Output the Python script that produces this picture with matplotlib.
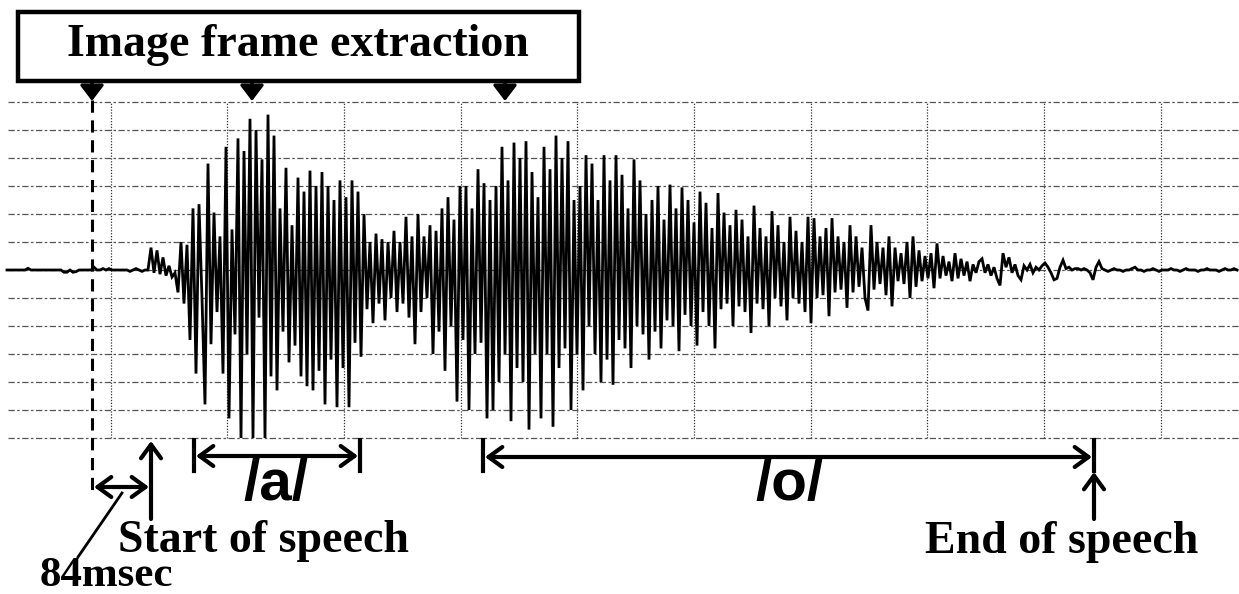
import matplotlib
matplotlib.use("Agg")
import matplotlib.pyplot as plt
from matplotlib.patches import Rectangle

# ---------------- data ----------------
grid_times = [0, 1, 2, 3, 4, 5, 6, 7, 8, 9]          # vertical grid divisions
grid_levels = [-6, -5, -4, -3, -2, -1, 0, 1, 2, 3, 4, 5, 6]
sample_start = -0.8889      # time of first sample (grid divisions)
sample_step = 0.025714      # time between samples (grid divisions)

pre_speech = [0, 0, 0, 0, 0, 0, 0, 0.06, 0,
              0, 0, 0, 0, 0, 0, 0, 0, 0, 0,
              -0.08, -0.08, 0, -0.08, -0.06, 0, 0,
              0, 0, 0, 0.1, 0,
              0, 0.05, 0, 0.05, 0, 0, 0, 0, 0, 0,
              -0.05, 0, 0.05, 0, -0.05, 0]
onset = [0.0, 0.8, -0.1, 0.7, -0.15, 0.45, -0.2, 0.15, -0.25, -0.1]
vowel_a = [-0.8, 1.0, -1.2, 0.9, -2.5, 2.2, -3.7, 2.35, -1.0, -4.8,
           3.8, -2.65, 2.05, -1.5, 1.2, -3.7, 4.4, -5.3, 1.45, -2.3,
           4.7, -6.0, 4.25, -3.0, 5.4, -6.0, 5.0, -1.7, 3.95, -6.0,
           5.55, -3.8, 4.8, -4.3, 2.2, -2.2, 3.65, -3.3, 1.6, -2.7,
           3.3, -3.8, 2.8, -4.15, 3.55, -4.3, 3.0, -3.6, 3.5, -4.8,
           3.0, -3.2, 2.5, -4.9, 3.2, -3.5, 2.6, -4.9, 3.2, -2.6,
           2.8, -3.1, 2.0, -1.4, 1.0, -1.9, 1.3, -1.2, 1.1, -1.8]
transition = [1.0, -1.0, 1.4, -1.5, 1.0, -1.2, 1.9, -1.7, 1.2, -2.65,
              2.0, -1.5, 1.2, -1.0, 1.6, -3.0, 1.4, -2.2, 2.2, -3.6]
vowel_o = [2.6, -2.0, 1.8, -4.7, 3.0, -2.5, 3.0, -5.0, 2.2, -3.0,
           3.6, -2.6, 3.1, -5.3, 2.5, -5.0, 3.0, -4.0, 4.4, -3.0,
           3.2, -5.4, 4.55, -3.5, 4.0, -4.0, 4.6, -5.7, 3.5, -3.0,
           2.6, -5.3, 4.4, -3.0, 3.6, -5.6, 4.8, -3.5, 4.0, -2.8,
           4.6, -5.0, 2.5, -3.0, 3.0, -4.3, 4.1, -2.0, 3.8, -3.0,
           2.5, -4.0, 4.1, -3.2, 3.2, -4.1, 4.1, -2.5, 3.4, -2.8,
           2.2, -3.5, 3.95, -2.0, 3.2, -2.3, 2.0, -3.2, 2.5, -2.2,
           3.0, -2.8, 1.8, -1.8, 3.05, -2.0, 2.2, -2.9, 2.95, -1.6,
           2.5, -2.0, 1.7, -2.7, 2.8, -1.5, 2.4, -2.0, 1.5, -2.8,
           2.75, -1.4, 2.05, -1.2, 1.6, -2.0, 2.15, -1.3, 1.8, -1.5,
           1.2, -2.25, 2.3, -1.2, 1.5, -1.4, 1.2, -2.0, 2.1, -1.0,
           1.6, -1.3, 1.0, -1.8, 1.9, -1.0, 1.4, -1.2, 1.0, -1.5,
           1.9, -1.9, 1.85, -1.0, 1.2, -0.9, 1.5, -1.65, 1.85, -0.8,
           1.2, -0.7, 1.0, -1.35, 1.6, -0.8, 1.2, -0.6, 0.8, -1.0,
           -1.45, 1.6, -0.7, 1.0, -0.5, 0.8, -0.9, 1.2, -1.3, 0.8]
decay = [-0.4, 0.6, -0.5, 1.0, -1.0, 1.2, -0.6, 0.7, -0.4, 0.5,
         -0.3, 0.6, -0.65, 0.95, -0.3, 0.5, -0.2, 0.3, -0.4, 0.6,
         -0.3, 0.4, -0.2, 0.3, -0.4, 0.2, -0.1, 0.3, 0.4, -0.1,
         0.2, -0.2, 0.1, -0.3, -0.55, 0.6, 0.1, 0.45, -0.1, 0.2,
         -0.2, -0.35, 0.15, 0.0, 0.2, -0.1, 0.1, 0.0, 0.15, 0.25,
         0.1, -0.1, -0.35, -0.3, 0.1, 0.35, 0.05, 0.1, 0.0, 0.05,
         0.05, 0.0, 0.05, 0.0, -0.1, -0.35, 0.1, 0.3, 0.05, 0.0]
tail = [-0.05, 0, 0.05, 0, 0, -0.05, 0, 0, 0.05, 0.1, 0, 0, -0.05, 0, 0,
        0.05, 0, -0.05, 0, 0, 0, 0.05, 0, 0, -0.05, 0, 0.05, 0, 0, 0,
        -0.05, 0, 0, 0.05, 0, 0, 0, -0.05, 0, 0.05, 0, 0, 0.05, 0]

title_text = "Image frame extraction"
label_start = "Start of speech"
label_end = "End of speech"
label_delay = "84msec"
label_a = "/a/"
label_o = "/o/"

# ---------------- figure ----------------
W, H = 1239, 594
fig = plt.figure(figsize=(W / 100, H / 100), dpi=100)
ax = fig.add_axes([0, 0, 1, 1])
ax.axis("off")

X_ORIGIN, X_UNIT = 110.7, 116.67   # pixel of t=0, pixels per division
Y_ORIGIN, Y_UNIT = 270.0, 28.0


def PX(px):
    return (px - X_ORIGIN) / X_UNIT


def PY(py):
    return (Y_ORIGIN - py) / Y_UNIT


ax.set_xlim(PX(0), PX(W))
ax.set_ylim(PY(H), PY(0))

# grid
for g in grid_levels:
    ax.plot([PX(8), PX(W)], [g, g], color="#555555", lw=0.9,
            ls=(0, (5, 2, 2, 2)), zorder=1)
for t in grid_times:
    ax.plot([t, t], [grid_levels[0], grid_levels[-1]], color="#333333",
            lw=0.9, ls=(0, (1, 1.3)), zorder=1)

# waveform
values = pre_speech + onset + vowel_a + transition + vowel_o + decay + tail
times = [sample_start + i * sample_step for i in range(len(values))]
ax.plot(times, values, color="black", lw=2.0, solid_joinstyle="miter", zorder=3)

serif = dict(family="Liberation Serif", fontweight="bold", color="black")
sans = dict(family="Liberation Sans", fontweight="bold", color="black")

# top box
ax.add_patch(Rectangle((PX(18), PY(81)), PX(579) - PX(18), PY(12) - PY(81),
                       fill=False, lw=3.2, ec="black", zorder=5, clip_on=False))
ax.text(PX(298), PY(45), title_text, ha="center", va="center", fontsize=33, **serif)
for px in (92, 252, 505):
    ax.annotate("", xy=(PX(px), PY(101)), xytext=(PX(px), PY(81)),
                arrowprops=dict(arrowstyle="-|>,head_length=0.55,head_width=0.42",
                                lw=2.5, color="black", shrinkA=0, shrinkB=0,
                                mutation_scale=17), zorder=6)

# dashed marker line
ax.plot([PX(92), PX(92)], [PY(100), PY(496)], color="black", lw=2.2,
        ls=(0, (4, 2.5)), zorder=4)

arrow2 = dict(arrowstyle="<->,head_length=0.55,head_width=0.4", lw=3.0,
              color="black", shrinkA=0, shrinkB=0, mutation_scale=18)
arrow1 = dict(arrowstyle="->,head_length=0.55,head_width=0.4", lw=3.0,
              color="black", shrinkA=0, shrinkB=0, mutation_scale=18)

# /a/ bracket
for px in (194, 360):
    ax.plot([PX(px), PX(px)], [PY(440), PY(471)], color="black", lw=3.0)
ax.annotate("", xy=(PX(196), PY(456)), xytext=(PX(358), PY(456)), arrowprops=arrow2)
ax.text(PX(276), PY(485), label_a, ha="center", va="center", fontsize=42, **sans)

# /o/ bracket
for px in (483, 1094):
    ax.plot([PX(px), PX(px)], [PY(440), PY(471)], color="black", lw=3.0)
ax.annotate("", xy=(PX(485), PY(457)), xytext=(PX(1092), PY(457)), arrowprops=arrow2)
ax.text(PX(789), PY(485), label_o, ha="center", va="center", fontsize=42, **sans)

# 84 msec
ax.annotate("", xy=(PX(94), PY(487)), xytext=(PX(149), PY(487)), arrowprops=arrow2)
ax.plot([PX(78), PX(122)], [PY(557), PY(493)], color="black", lw=2.0)
ax.text(PX(40), PY(586), label_delay, ha="left", va="baseline", fontsize=31, **serif)

# start / end of speech
ax.annotate("", xy=(PX(151), PY(441)), xytext=(PX(151), PY(519)), arrowprops=arrow1)
ax.text(PX(118), PY(552), label_start, ha="left", va="baseline", fontsize=33, **serif)
ax.annotate("", xy=(PX(1094), PY(472)), xytext=(PX(1094), PY(519)), arrowprops=arrow1)
ax.text(PX(925), PY(553), label_end, ha="left", va="baseline", fontsize=33, **serif)

fig.savefig("out.png", dpi=100)
